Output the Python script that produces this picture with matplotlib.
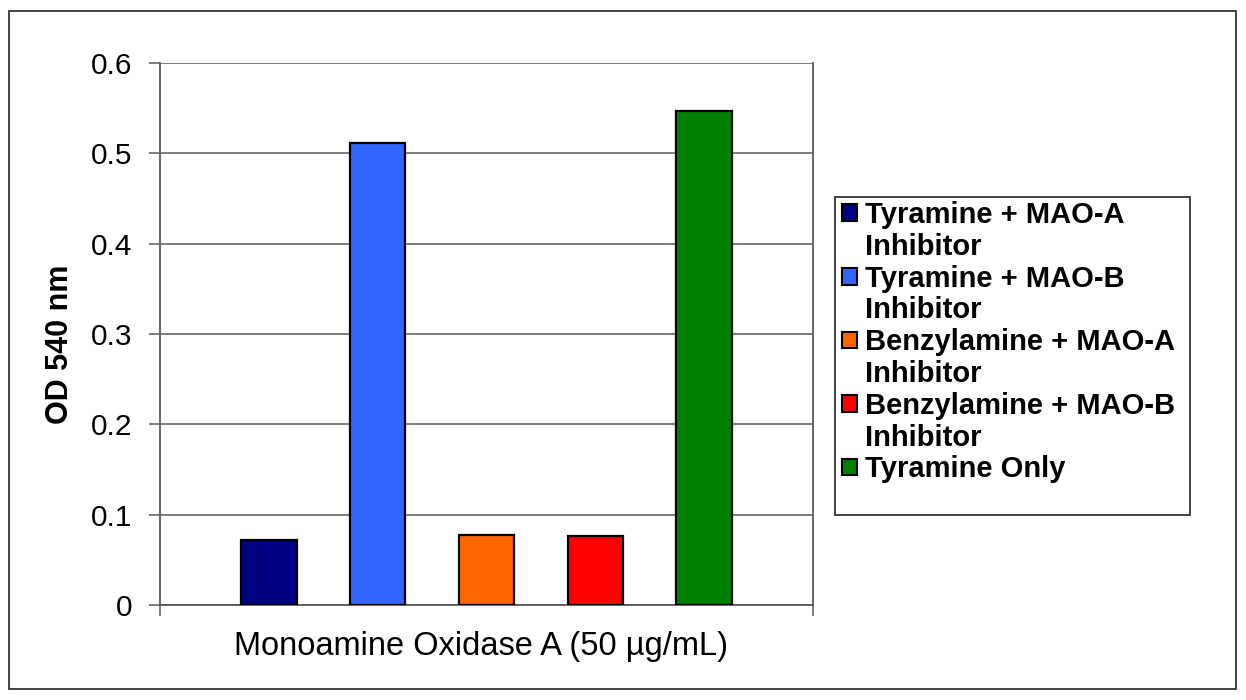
import matplotlib
matplotlib.use("Agg")
import matplotlib.pyplot as plt
from matplotlib.patches import Rectangle, Patch

plt.rcParams['font.family'] = ['Liberation Sans', 'DejaVu Sans']

series = ["Tyramine + MAO-A\nInhibitor", "Tyramine + MAO-B\nInhibitor",
          "Benzylamine + MAO-A\nInhibitor", "Benzylamine + MAO-B\nInhibitor",
          "Tyramine Only"]
values = [0.072, 0.511, 0.077, 0.076, 0.547]
colors = ["#000080", "#3366FF", "#FF6600", "#FF0000", "#008000"]
yticks = [0, 0.1, 0.2, 0.3, 0.4, 0.5, 0.6]
ytick_labels = ["0", "0.1", "0.2", "0.3", "0.4", "0.5", "0.6"]
xlabel = "Monoamine Oxidase A (50 µg/mL)"
ylabel = "OD 540 nm"

W, H = 1246, 700
fig = plt.figure(figsize=(W/100, H/100), dpi=100)
fig.patch.set_facecolor("white")

# outer frame
fig.patches.append(Rectangle((9/W, 1 - 689/H), (1236-9)/W, (689-11)/H,
                             transform=fig.transFigure, fill=False,
                             edgecolor="#222222", lw=1.2))

left, right, top, bottom = 160, 813, 63, 605
ax = fig.add_axes([left/W, 1 - bottom/H, (right-left)/W, (bottom-top)/H])
ax.set_xlim(0, 6)
ax.set_ylim(0, 0.6)

handles = []
for i, (s, v, c) in enumerate(zip(series, values, colors)):
    b = ax.bar(i + 1, v, width=0.51, color=c, edgecolor="black", lw=1.6,
               label=s, zorder=3)
    handles.append(b)

ax.set_yticks(yticks)
ax.set_yticklabels(ytick_labels, fontsize=21.5)
ax.yaxis.grid(True, color="#5a5a5a", lw=1.1)
ax.set_axisbelow(True)
ax.set_xticks([0, 6])
ax.set_xticklabels(["", ""])
ax.tick_params(axis='both', direction='out', length=8, width=1.1, color="#5a5a5a")
ax.tick_params(axis='y', pad=12)
for sp in ["left", "right", "bottom"]:
    ax.spines[sp].set_color("#5a5a5a")
    ax.spines[sp].set_linewidth(1.3)
ax.spines["top"].set_visible(False)

ax.set_xlabel(xlabel, fontsize=23.5)
ax.xaxis.set_label_coords((481 - left) / (right - left), (bottom - 631) / (bottom - top))
ax.set_ylabel(ylabel, fontsize=22, fontweight="bold")
ax.yaxis.set_label_coords((75 - left) / (right - left), (bottom - 344) / (bottom - top))

# legend frame
fig.patches.append(Rectangle((835/W, 1 - 515/H), (1190-835)/W, (515-197)/H,
                             transform=fig.transFigure, fill=False,
                             edgecolor="#333333", lw=1.3))

# legend rows: first line with colour key, continuation lines without key
leg_handles, leg_labels = [], []
for s, c in zip(series, colors):
    lines = s.split("\n")
    leg_handles.append(Patch(facecolor=c, edgecolor="black", lw=1.5))
    leg_labels.append(lines[0])
    for extra in lines[1:]:
        leg_handles.append(Patch(facecolor="none", edgecolor="none"))
        leg_labels.append(extra)

leg = fig.legend(handles=leg_handles, labels=leg_labels, loc="upper left",
                 bbox_to_anchor=(842/W, 1 - 201/H), frameon=False,
                 prop={'size': 21, 'weight': 'bold'}, handlelength=0.5,
                 handleheight=0.5, handletextpad=0.3, labelspacing=0.13,
                 borderaxespad=0, borderpad=0.0)

fig.savefig("out.png", dpi=100)
